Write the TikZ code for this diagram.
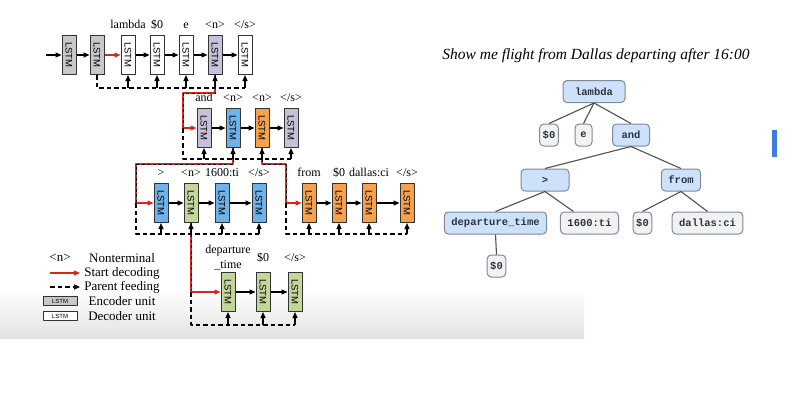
\documentclass[tikz,border=0pt]{standalone}
\usepackage{fontspec}
\setmainfont{Liberation Serif}
\setsansfont{Liberation Sans}
\setmonofont{Liberation Mono}
\usetikzlibrary{arrows.meta,positioning}

\definecolor{boxline}{HTML}{333333}
\definecolor{encgray}{HTML}{C8C8C8}
\definecolor{ntpurple}{HTML}{C6C0D9}
\definecolor{unitblue}{HTML}{6FB1EA}
\definecolor{unitorange}{HTML}{F6A24D}
\definecolor{unitgreen}{HTML}{C3D69B}
\definecolor{startred}{HTML}{D7261E}
\definecolor{treeblue}{HTML}{CDE2FA}
\definecolor{leafgray}{HTML}{F2F2F2}
\definecolor{treeline}{HTML}{7E8A96}
\definecolor{treetext}{HTML}{2B3440}
\definecolor{edgegray}{HTML}{505050}
\definecolor{bandgray}{HTML}{E3E3E3}
\definecolor{barblue}{HTML}{3D7DDF}

\begin{document}
\begin{tikzpicture}[x=1pt, y=-1pt, line join=round, >={Triangle[length=6pt, width=5pt]},
    lstm/.style={draw=boxline, line width=1pt, fill=#1, minimum width=14pt, minimum height=39pt,
        inner sep=0pt, font=\fontsize{9.5}{10}\selectfont\sffamily},
    legbox/.style={draw=boxline, line width=1pt, fill=#1, minimum width=34pt, minimum height=9pt,
        inner sep=0pt, font=\fontsize{6}{6}\selectfont\sffamily},
    lbl/.style={font=\fontsize{12}{15}\selectfont, inner sep=0pt, anchor=base},
    legtxt/.style={font=\fontsize{13}{14}\selectfont, inner sep=0pt},
    flow/.style={->, line width=1.2pt},
    startline/.style={draw=startred, line width=1.3pt,
        postaction={draw=black, line width=1pt, dash pattern=on 3pt off 2.5pt}},
    feed/.style={line width=1.3pt, dash pattern=on 4.5pt off 3pt},
    tn/.style={draw=treeline, line width=1pt, rounded corners=4pt, fill=#1, minimum height=22pt,
        inner xsep=7pt, font=\fontsize{10.5}{11}\selectfont\ttfamily\bfseries, text=treetext},
    branch/.style={draw=edgegray, line width=1.1pt}]
    \useasboundingbox (0,0) rectangle (797,413);
    \shade[top color=white, bottom color=bandgray] (0,288) rectangle (584,338);
    \fill[barblue] (772,130) rectangle (777,157);

    \path
    (46,55) coordinate (in)
    (0,88) coordinate (r1)
    (0,159) coordinate (r2)
    (0,234) coordinate (r3)
    (0,325) coordinate (r4)
    (183,93) coordinate (p1)
    (136,164) coordinate (p2)
    (286,164) coordinate (p3)
    ;

    % LSTM units
    \foreach \n/\x/\c in {1/69/encgray, 2/97/encgray, 3/128/white, 4/157/white, 5/186/white, 6/215/ntpurple, 7/245/white}{
        \node[lstm=\c] (a\n) at (\x,55) {\rotatebox{-90}{LSTM}};
    }
    \foreach \n/\x/\c in {1/204/ntpurple, 2/233/unitblue, 3/262/unitorange, 4/291/ntpurple}{
        \node[lstm=\c] (b\n) at (\x,128) {\rotatebox{-90}{LSTM}};
    }
    \foreach \n/\x/\c in {1/161/unitblue, 2/191/unitgreen, 3/222/unitblue, 4/259/unitblue}{
        \node[lstm=\c] (c\n) at (\x,203) {\rotatebox{-90}{LSTM}};
    }
    \foreach \n/\x in {1/309, 2/339, 3/369, 4/407}{
        \node[lstm=unitorange] (d\n) at (\x,203) {\rotatebox{-90}{LSTM}};
    }
    \foreach \n/\x in {1/228, 2/263, 3/295}{
        \node[lstm=unitgreen] (e\n) at (\x,292) {\rotatebox{-90}{LSTM}};
    }

    % tokens
    \foreach \n/\t in {a3/lambda, a4/\$0, a5/e, a6/{<n>}, a7/{</s>},
        b1/and, b2/{<n>}, b3/{<n>}, b4/{</s>},
        c1/{>}, c2/{<n>}, c3/1600:ti, c4/{</s>},
        d1/from, d2/\$0, d3/dallas:ci, d4/{</s>}}{
        \node[lbl] (l\n) at ([yshift=7pt]\n.north) {\t};
    }
    \node[lbl, anchor=south, align=center] (le1) at ([yshift=2pt]e1.north) {departure\\\_time};
    \node[lbl, anchor=center] (le2) at (e2 |- le1) {\$0};
    \node[lbl, anchor=center] (le3) at (e3 |- le1) {</s>};

    % recurrent arrows
    \draw[flow] (in) -- (a1);
    \foreach \i/\j in {1/2, 3/4, 4/5, 5/6, 6/7}{
        \draw[flow] (a\i) -- (a\j);
    }
    \draw[flow, startred] (a2) -- (a3);
    \foreach \r/\i/\j in {b/1/2, b/2/3, b/3/4, c/1/2, c/2/3, c/3/4, d/1/2, d/2/3, d/3/4, e/1/2, e/2/3}{
        \draw[flow] (\r\i) -- (\r\j);
    }

    % start decoding
    \draw[startline] (a6.south) |- (p1) -- (p1 |- b1);
    \draw[startline] (b2.south) |- (p2) -- (p2 |- c1);
    \draw[startline] (b3.south) |- (p3) -- (p3 |- d1);
    \draw[startline] (c2.south) -- (c2 |- e1);
    \draw[flow, startred] (p1 |- b1) -- (b1.west);
    \draw[flow, startred] (p2 |- c1) -- (c1.west);
    \draw[flow, startred] (p3 |- d1) -- (d1.west);
    \draw[flow, startred] (c2 |- e1) -- (e1.west);

    % parent feeding
    \draw[feed] (a2.south) |- (a7 |- r1);
    \draw[feed] (p1 |- b1) |- (b4 |- r2);
    \draw[feed] (p2 |- c1) |- (c4 |- r3);
    \draw[feed] (p3 |- d1) |- (d4 |- r3);
    \draw[feed] (c2 |- e1) |- (e3 |- r4);
    \foreach \n in {a3, a4, a5, a6, a7}{
        \draw[flow] (\n |- r1) -- (\n.south);
    }
    \foreach \n in {b1, b2, b3, b4}{
        \draw[flow] (\n |- r2) -- (\n.south);
    }
    \foreach \n in {c1, c2, c3, c4, d1, d2, d3, d4}{
        \draw[flow] (\n |- r3) -- (\n.south);
    }
    \foreach \n in {e1, e2, e3}{
        \draw[flow] (\n |- r4) -- (\n.south);
    }

    % legend
    \path
    (50,273) coordinate (ks)
    (80,273) coordinate (kse)
    (50,287) coordinate (kf)
    (80,287) coordinate (kfe)
    ;
    \node[legtxt] (kn) at (60,258) {<n>};
    \draw[flow, startred] (ks) -- (kse);
    \draw[feed] (kf) -- ([xshift=-5pt]kfe);
    \draw[flow, shorten <=24pt] (kf) -- (kfe);
    \node[legbox=encgray] (kenc) at (60,301) {LSTM};
    \node[legbox=white] (kdec) at (60,316) {LSTM};
    \node[legtxt] (tn1) at (122,258) {Nonterminal};
    \node[legtxt] (tn2) at (122,273) {Start decoding};
    \node[legtxt] (tn3) at (122,287) {Parent feeding};
    \node[legtxt] (tn4) at (122,301) {Encoder unit};
    \node[legtxt] (tn5) at (122,316) {Decoder unit};

    % tree
    \node[font=\fontsize{15.5}{17}\selectfont\itshape] (title) at (596,56) {Show me flight from Dallas departing after 16:00};
    \node[tn=treeblue, minimum width=62pt] (t-lambda) at (594,91.5) {lambda};
    \node[tn=leafgray, inner xsep=3pt] (t-s0) at (549,135) {\$0};
    \node[tn=leafgray, minimum width=17pt, inner xsep=3pt] (t-e) at (583.5,135) {e};
    \node[tn=treeblue, minimum width=37pt] (t-and) at (631,135) {and};
    \node[tn=treeblue, minimum width=48pt] (t-gt) at (545,180) {>};
    \node[tn=treeblue] (t-from) at (681,180) {from};
    \node[tn=treeblue] (t-dep) at (495.5,223) {departure\_time};
    \node[tn=leafgray] (t-1600) at (589.5,223) {1600:ti};
    \node[tn=leafgray, inner xsep=3pt] (t-s0b) at (642.5,223) {\$0};
    \node[tn=leafgray] (t-dallas) at (707.5,223) {dallas:ci};
    \node[tn=leafgray, inner xsep=3pt] (t-s0c) at (496.5,266) {\$0};

    \foreach \p/\c in {t-lambda/t-s0, t-lambda/t-e, t-lambda/t-and, t-and/t-gt, t-and/t-from,
        t-gt/t-dep, t-from/t-s0b, t-from/t-dallas, t-dep/t-s0c}{
        \draw[branch] (\p.south) -- (\c.north);
    }
    \draw[branch] (t-gt.south) -- ([xshift=-16pt]t-1600.north);
\end{tikzpicture}
\end{document}
